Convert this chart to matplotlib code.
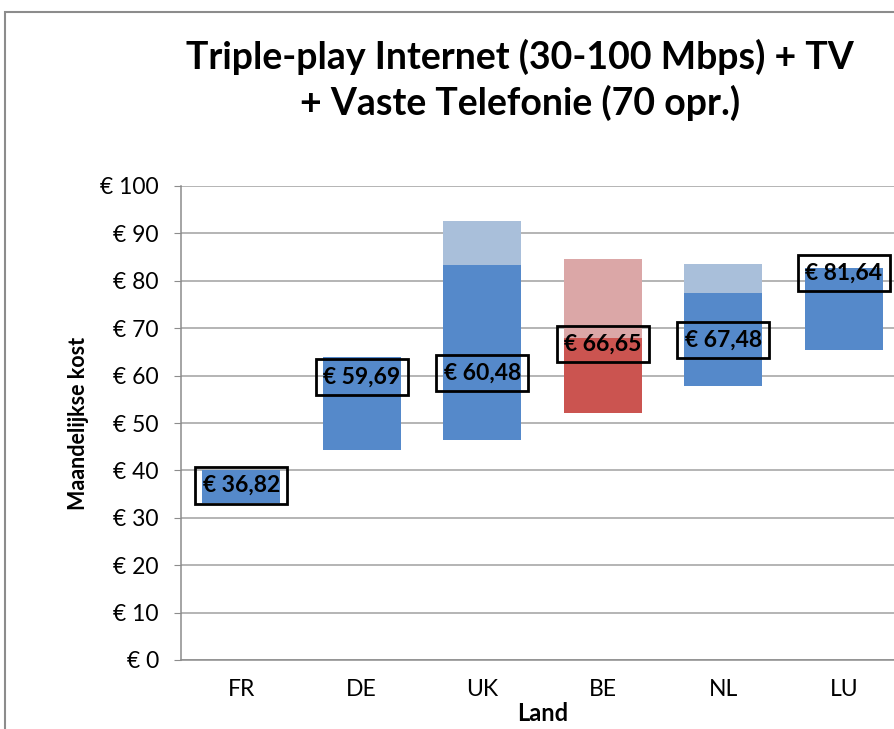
import matplotlib.pyplot as plt
from matplotlib.patches import Rectangle

plt.rcParams["font.family"] = ["Lato", "DejaVu Sans"]

# values (euro per month)
countries = ["FR", "DE", "UK", "BE", "NL", "LU"]
range_low = [33.1, 44.3, 46.4, 52.1, 57.8, 65.4]
range_mid = [40.1, 63.9, 83.3, 67.9, 77.5, 82.7]
range_high = [40.1, 63.9, 92.7, 84.5, 83.5, 82.7]
averages = [36.82, 59.69, 60.48, 66.65, 67.48, 81.64]
avg_labels = ["€ 36,82", "€ 59,69", "€ 60,48", "€ 66,65", "€ 67,48", "€ 81,64"]
highlight = "BE"
y_ticks = list(range(0, 101, 10))

BLUE, BLUE_LIGHT = "#5589CA", "#A9BFDA"
RED, RED_LIGHT = "#CB5450", "#DBA7A7"

fig = plt.figure(figsize=(8.94, 7.29), dpi=100)
fig.patches.append(Rectangle((5 / 894, -0.1), 1.2, 1 - 12 / 729 + 0.1,
                             transform=fig.transFigure, fill=False,
                             edgecolor="#8C8C8C", linewidth=1.5))

ax = fig.add_axes([181 / 894, 1 - 660 / 729, 723 / 894, 474 / 729])
x = range(len(countries))
for i, c in enumerate(countries):
    dark, light = (RED, RED_LIGHT) if c == highlight else (BLUE, BLUE_LIGHT)
    ax.bar(i, range_mid[i] - range_low[i], bottom=range_low[i], width=0.65,
           color=dark, zorder=2)
    ax.bar(i, range_high[i] - range_mid[i], bottom=range_mid[i], width=0.65,
           color=light, zorder=2)
    ax.text(i, averages[i], avg_labels[i], ha="center", va="center",
            fontsize=16.5, fontweight="bold", zorder=4,
            bbox=dict(boxstyle="square,pad=0.33", facecolor="none",
                      edgecolor="black", linewidth=2))

ax.set_xlim(-0.5, len(countries) - 0.5)
ax.set_ylim(0, 100)
ax.set_yticks(y_ticks)
ax.set_yticklabels([f"€ {v}" for v in y_ticks], fontsize=16.5)
ax.set_xticks(list(x))
ax.set_xticklabels(countries, fontsize=16.5)
ax.tick_params(axis="x", length=0, pad=14)
ax.tick_params(axis="y", length=5, color="#8C8C8C", pad=11)
ax.yaxis.grid(True, color="#A0A0A0", linewidth=1.1, zorder=0)
ax.set_axisbelow(True)
for side in ["top", "right"]:
    ax.spines[side].set_visible(False)
for side in ["left", "bottom"]:
    ax.spines[side].set_color("#8C8C8C")
    ax.spines[side].set_linewidth(1.1)

ax.set_ylabel("Maandelijkse kost", fontsize=15.5, fontweight="bold", labelpad=8)
ax.set_xlabel("Land", fontsize=17, fontweight="bold", labelpad=1)

fig.text(520 / 894, 1 - 80 / 729,
         "Triple-play Internet (30-100 Mbps) + TV\n+ Vaste Telefonie (70 opr.)",
         ha="center", va="center", fontsize=27, fontweight="bold",
         linespacing=1.3)

fig.savefig("out.png", dpi=100)
